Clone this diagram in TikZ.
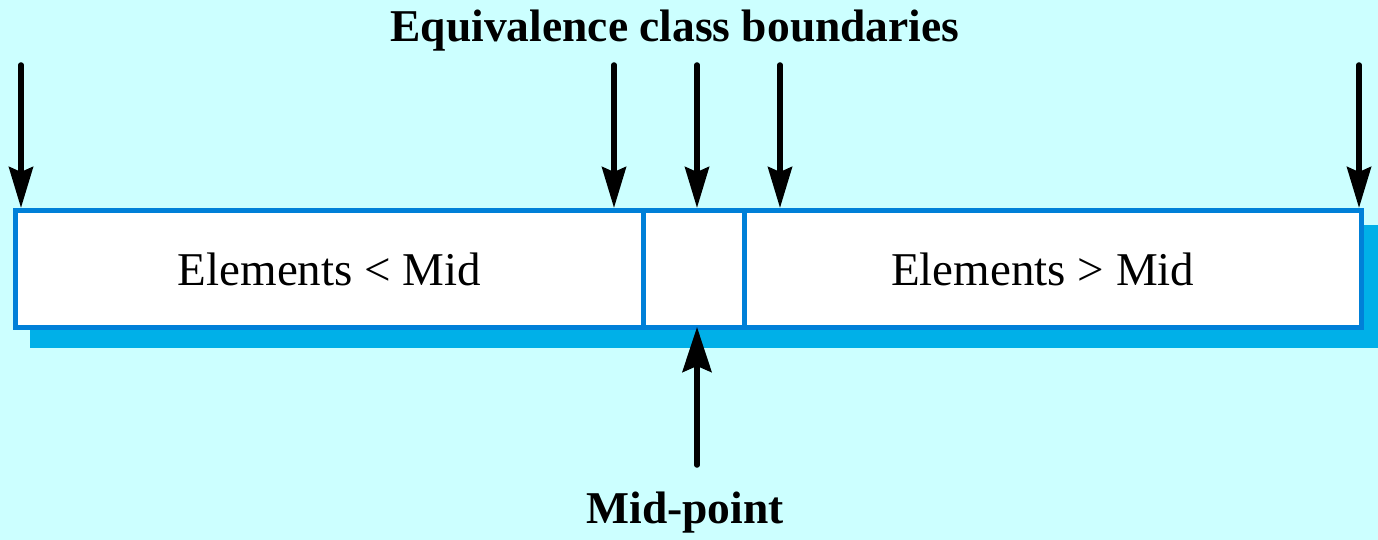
\documentclass[tikz,border=0pt]{standalone}
\usepackage{fontspec}
\setmainfont{Liberation Serif}
\usetikzlibrary{arrows.meta}
\definecolor{bgcyan}{HTML}{CCFFFF}
\definecolor{boxblue}{HTML}{0080D8}
\definecolor{shadowblue}{HTML}{00B0E8}
\tikzset{
  cell/.style={draw=boxblue, fill=white, line width=5pt, inner sep=0pt,
    minimum height=117pt, font=\fontsize{47}{56}\selectfont},
  pointer/.style={line width=5.5pt, line cap=round,
    -{Stealth[length=41pt,width=24pt,inset=5pt]}},
  bigpointer/.style={line width=5.5pt, line cap=round,
    -{Stealth[length=45pt,width=29pt,inset=6pt]}},
  heading/.style={font=\fontsize{45.5}{54}\selectfont\bfseries, inner sep=0pt, anchor=base}
}
\begin{document}
\begin{tikzpicture}[x=1pt,y=-1pt]
  \fill[bgcyan] (0,0) rectangle (1378,540);
  \useasboundingbox (0,0) rectangle (1378,540);
  % shadow
  \fill[shadowblue] (30,225) rectangle (1378,348);
  % cells
  \node[cell, minimum width=628pt] (L) at (329.5,269) {Elements < Mid};
  \node[cell, minimum width=101pt] (M) at (694,269) {};
  \node[cell, minimum width=616.5pt] (R) at (1052.75,269) {\hspace*{-20pt}Elements > Mid};
  % labels
  \node[heading] (title) at (675,42) {Equivalence class boundaries};
  \node[heading] (mid) at (685,523) {Mid-point};
  % top pointers
  \coordinate (a1) at (21,65);
  \coordinate (a2) at (614,65);
  \coordinate (a3) at (697,65);
  \coordinate (a4) at (780,65);
  \coordinate (a5) at (1359,65);
  \draw[pointer] (a1) -- (a1 |- L.north);
  \draw[pointer] (a2) -- (a2 |- L.north);
  \draw[pointer] (a3) -- (a3 |- M.north);
  \draw[pointer] (a4) -- (a4 |- R.north);
  \draw[pointer] (a5) -- (a5 |- R.north);
  % mid-point pointer
  \coordinate (mb) at (697,465);
  \draw[bigpointer] (mb) -- ([yshift=3pt]mb |- M.south);
\end{tikzpicture}
\end{document}
